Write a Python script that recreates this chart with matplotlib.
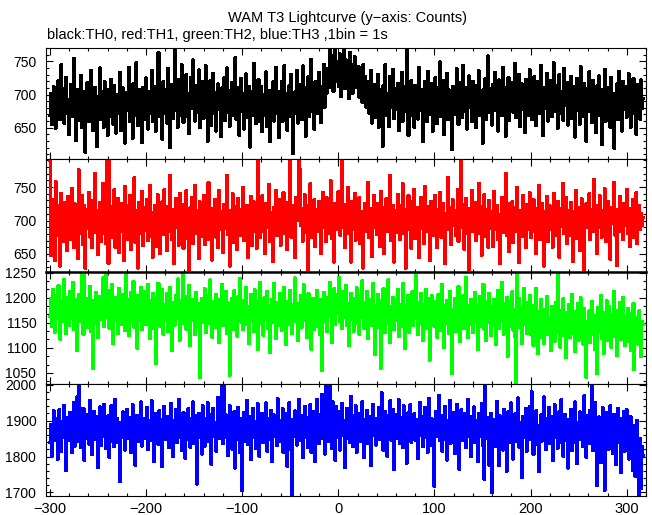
import numpy as np
import matplotlib

matplotlib.use("Agg")
import matplotlib.pyplot as plt
from matplotlib.ticker import MultipleLocator

# time bins (1 s) from -300 to 317
t_start = -300

th0 = [
    668, 702, 655, 691, 712, 684, 649, 703, 677, 721, 690, 662, 745, 681, 698, 657, 709, 726, 672, 688,
    640, 693, 715, 667, 682, 754, 699, 631, 676, 708, 661, 694, 729, 650, 687, 705, 672, 613, 690, 718,
    683, 659, 701, 736, 670, 646, 692, 711, 678, 622, 697, 684, 740, 663, 705, 688, 651, 719, 674, 696,
    639, 708, 681, 667, 723, 693, 655, 714, 679, 642, 700, 688, 671, 733, 646, 692, 710, 664, 627, 685,
    703, 676, 741, 659, 690, 698, 634, 717, 682, 669, 748, 688, 653, 707, 675, 692, 628, 711, 687, 662,
    725, 681, 648, 704, 693, 671, 736, 659, 689, 712, 645, 698, 680, 763, 667, 702, 686, 633, 719, 694,
    672, 708, 657, 739, 683, 620, 697, 715, 664, 690, 766, 676, 704, 651, 722, 688, 669, 745, 693, 658,
    711, 684, 730, 667, 702, 641, 695, 726, 679, 752, 688, 660, 714, 696, 673, 737, 650, 707, 685, 719,
    664, 698, 743, 676, 629, 709, 687, 721, 654, 694, 732, 671, 703, 645, 689, 716, 678, 698, 637, 710,
    686, 725, 661, 697, 740, 673, 706, 652, 691, 718, 668, 700, 682, 756, 663, 694, 711, 639, 688, 724,
    674, 702, 648, 690, 731, 665, 697, 712, 621, 683, 705, 668, 747, 689, 656, 708, 679, 723, 660, 696,
    712, 644, 687, 700, 668, 734, 652, 691, 706, 629, 675, 698, 719, 660, 684, 741, 671, 697, 635, 705,
    683, 720, 659, 694, 743, 677, 701, 646, 689, 713, 667, 730, 690, 611, 681, 704, 672, 736, 657, 699,
    688, 715, 662, 743, 679, 696, 637, 710, 684, 727, 667, 701, 753, 674, 692, 648, 719, 686, 706, 671,
    733, 690, 658, 712, 697, 745, 681, 717, 702, 739, 726, 768, 711, 742, 758, 705, 731, 775, 720, 749,
    733, 712, 761, 697, 744, 728, 771, 709, 752, 720, 738, 694, 763, 716, 745, 702, 730, 757, 711, 726,
    721, 742, 696, 733, 710, 688, 745, 704, 727, 681, 695, 719, 672, 688, 736, 657, 703, 682, 715, 666,
    692, 730, 651, 708, 679, 697, 622, 714, 686, 745, 669, 701, 690, 652, 727, 681, 698, 738, 664, 709,
    677, 693, 717, 646, 703, 685, 733, 660, 696, 712, 674, 767, 689, 638, 706, 680, 721, 668, 699, 651,
    714, 687, 703, 663, 741, 692, 676, 708, 629, 695, 720, 682, 659, 735, 701, 670, 688, 716, 645, 704,
    678, 726, 691, 656, 710, 683, 749, 667, 700, 721, 640, 694, 686, 732, 662, 707, 679, 698, 617, 712,
    688, 705, 670, 739, 691, 655, 718, 684, 702, 666, 744, 697, 675, 710, 648, 692, 728, 681, 703, 659,
    720, 687, 695, 650, 713, 678, 736, 669, 701, 689, 626, 707, 682, 724, 663, 696, 758, 673, 709, 688,
    654, 715, 691, 733, 676, 702, 645, 722, 684, 699, 668, 741, 690, 711, 637, 697, 680, 726, 661, 704,
    689, 718, 673, 694, 747, 665, 708, 683, 730, 652, 699, 716, 678, 691, 643, 723, 687, 705, 669, 737,
    694, 662, 712, 681, 727, 698, 653, 719, 686, 704, 671, 744, 690, 638, 710, 679, 698, 732, 660, 707,
    684, 721, 667, 701, 748, 675, 696, 713, 649, 688, 730, 672, 705, 693, 661, 739, 683, 700, 718, 654,
    706, 680, 727, 664, 697, 712, 636, 690, 724, 676, 703, 655, 742, 685, 698, 667, 716, 691, 630, 709,
    675, 734, 688, 702, 658, 721, 681, 697, 643, 713, 686, 728, 668, 699, 625, 707, 682, 738, 660, 694,
    711, 673, 690, 650, 726, 685, 702, 619, 697, 679, 716, 662, 735, 688, 704, 645, 720, 677, 693, 712,
    666, 701, 731, 684, 651, 709, 690, 724, 672, 697, 640, 715, 686, 703, 663, 722, 679, 694,
]

th1 = [
    790, 648, 712, 731, 695, 640, 758, 703, 677, 722, 685, 632, 741, 699, 714, 668, 727, 690, 655, 736,
    702, 719, 671, 748, 693, 660, 725, 684, 710, 643, 776, 697, 681, 738, 664, 706, 722, 628, 699, 717,
    688, 742, 675, 711, 659, 730, 697, 770, 682, 715, 649, 703, 727, 668, 694, 756, 680, 709, 665, 792,
    712, 636, 790, 697, 721, 674, 705, 746, 660, 718, 689, 733, 652, 701, 726, 683, 697, 640, 751, 708,
    671, 722, 693, 738, 656, 710, 684, 702, 764, 667, 715, 691, 629, 727, 700, 681, 744, 662, 706, 719,
    685, 732, 670, 699, 753, 676, 712, 645, 708, 723, 688, 661, 739, 696, 714, 650, 703, 728, 679, 746,
    692, 707, 655, 721, 684, 767, 698, 672, 716, 636, 703, 733, 689, 710, 663, 741, 695, 680, 724, 658,
    711, 698, 745, 673, 702, 626, 719, 687, 735, 666, 704, 752, 681, 715, 694, 643, 728, 700, 676, 709,
    738, 664, 696, 721, 683, 757, 671, 705, 690, 641, 718, 699, 732, 675, 708, 660, 745, 686, 713, 697,
    652, 724, 688, 701, 768, 679, 715, 632, 706, 693, 740, 667, 699, 721, 684, 656, 733, 702, 678, 716,
    691, 749, 670, 708, 687, 723, 645, 712, 696, 736, 662, 704, 728, 683, 699, 658, 790, 701, 721, 674,
    710, 737, 684, 697, 650, 726, 705, 689, 754, 668, 712, 693, 639, 720, 702, 745, 677, 706, 688, 731,
    663, 715, 698, 742, 681, 704, 727, 656, 692, 711, 790, 675, 708, 723, 687, 644, 735, 700, 716, 791,
    776, 693, 718, 669, 706, 739, 682, 700, 625, 722, 697, 755, 674, 710, 688, 731, 661, 703, 717, 684,
    729, 696, 651, 713, 742, 690, 707, 668, 734, 701, 681, 719, 760, 673, 705, 694, 638, 726, 711, 687,
    743, 702, 678, 716, 792, 689, 724, 660, 708, 697, 750, 681, 713, 638, 729, 699, 686, 741, 670, 704,
    720, 688, 734, 665, 702, 714, 629, 697, 726, 683, 709, 757, 675, 691, 718, 646, 703, 737, 690, 712,
    679, 725, 698, 661, 744, 706, 687, 719, 650, 701, 733, 684, 712, 692, 768, 670, 707, 723, 638, 696,
    715, 682, 739, 703, 671, 722, 694, 755, 680, 709, 628, 716, 699, 737, 686, 705, 658, 728, 691, 747,
    673, 710, 696, 720, 645, 702, 735, 688, 714, 666, 751, 699, 683, 721, 707, 640, 729, 694, 712, 678,
    704, 738, 690, 659, 716, 697, 742, 675, 708, 726, 683, 636, 711, 699, 764, 687, 720, 664, 703, 731,
    692, 715, 678, 706, 747, 669, 711, 689, 790, 701, 724, 657, 696, 733, 680, 710, 627, 718, 699, 745,
    684, 703, 727, 670, 712, 695, 756, 681, 708, 648, 721, 693, 739, 676, 705, 717, 660, 730, 698, 688,
    713, 661, 744, 700, 686, 723, 672, 709, 636, 697, 735, 682, 716, 694, 771, 677, 704, 726, 653, 711,
    690, 728, 667, 705, 719, 684, 749, 698, 637, 715, 701, 676, 738, 693, 710, 659, 724, 687, 706, 742,
    674, 712, 696, 731, 683, 702, 650, 718, 689, 753, 671, 707, 725, 694, 632, 714, 700, 736, 668, 709,
    722, 687, 706, 660, 741, 695, 713, 677, 729, 703, 645, 718, 691, 709, 756, 680, 698, 734, 666, 715,
    701, 678, 727, 692, 639, 714, 688, 745, 673, 706, 720, 655, 697, 733, 684, 711, 626, 703, 725, 690,
    709, 740, 671, 698, 716, 683, 762, 694, 707, 651, 723, 689, 737, 700, 675, 715, 693, 748, 668, 704,
    729, 686, 712, 642, 701, 720, 695, 757, 678, 709, 633, 717, 698, 736, 683, 704, 671, 726, 692, 710,
    747, 680, 703, 661, 718, 697, 732, 674, 708, 689, 742, 665, 701, 723, 686, 711, 693, 705,
]

th2 = [
    1163, 1198, 1142, 1217, 1176, 1131, 1189, 1205, 1158, 1224, 1170, 1117, 1193, 1152, 1181, 1236, 1166, 1128, 1201, 1174,
    1145, 1212, 1187, 1159, 1230, 1137, 1178, 1196, 1094, 1168, 1207, 1153, 1184, 1248, 1162, 1126, 1250, 1171, 1199, 1140,
    1188, 1160, 1223, 1133, 1175, 1058, 1194, 1149, 1210, 1167, 1121, 1185, 1203, 1156, 1179, 1239, 1142, 1196, 1250, 1161,
    1173, 1215, 1138, 1190, 1164, 1227, 1108, 1182, 1155, 1201, 1176, 1129, 1219, 1168, 1193, 1146, 1207, 1171, 1135, 1250,
    1160, 1197, 1124, 1183, 1211, 1150, 1174, 1232, 1141, 1187, 1165, 1099, 1205, 1178, 1152, 1220, 1136, 1190, 1169, 1213,
    1147, 1181, 1226, 1163, 1119, 1195, 1172, 1208, 1139, 1184, 1068, 1199, 1157, 1229, 1175, 1143, 1192, 1216, 1127, 1170,
    1186, 1154, 1209, 1133, 1176, 1221, 1161, 1095, 1190, 1173, 1145, 1204, 1167, 1237, 1158, 1115, 1195, 1178, 1250, 1149,
    1172, 1203, 1137, 1188, 1160, 1225, 1104, 1181, 1154, 1196, 1170, 1126, 1211, 1165, 1189, 1143, 1041, 1177, 1198, 1150,
    1183, 1218, 1130, 1166, 1204, 1148, 1179, 1235, 1157, 1121, 1192, 1171, 1140, 1207, 1162, 1185, 1110, 1196, 1174, 1227,
    1145, 1180, 1163, 1212, 1128, 1190, 1154, 1045, 1169, 1199, 1177, 1136, 1214, 1158, 1186, 1123, 1202, 1166, 1238, 1151,
    1175, 1137, 1195, 1163, 1221, 1146, 1182, 1109, 1170, 1206, 1155, 1189, 1132, 1216, 1161, 1178, 1097, 1193, 1148, 1231,
    1166, 1187, 1125, 1200, 1157, 1176, 1213, 1139, 1184, 1090, 1168, 1197, 1150, 1229, 1162, 1118, 1191, 1173, 1144, 1209,
    1170, 1134, 1198, 1158, 1221, 1181, 1106, 1167, 1193, 1147, 1215, 1160, 1128, 1186, 1174, 1239, 1152, 1189, 1115, 1178,
    1163, 1204, 1141, 1176, 1226, 1155, 1192, 1120, 1171, 1208, 1149, 1183, 1097, 1165, 1199, 1136, 1187, 1158, 1215, 1143,
    1180, 1127, 1196, 1055, 1168, 1210, 1153, 1185, 1132, 1201, 1164, 1231, 1175, 1110, 1190, 1158, 1218, 1146, 1184, 1207,
    1169, 1240, 1152, 1194, 1138, 1213, 1177, 1160, 1225, 1144, 1188, 1105, 1172, 1209, 1156, 1191, 1133, 1199, 1165, 1220,
    1148, 1181, 1126, 1203, 1161, 1234, 1174, 1139, 1190, 1157, 1212, 1119, 1178, 1196, 1145, 1170, 1228, 1154, 1087, 1185,
    1163, 1207, 1141, 1179, 1059, 1195, 1152, 1219, 1168, 1130, 1189, 1173, 1236, 1147, 1110, 1183, 1160, 1201, 1137, 1176,
    1196, 1154, 1216, 1123, 1170, 1187, 1142, 1229, 1161, 1098, 1184, 1150, 1205, 1167, 1131, 1193, 1174, 1212, 1144, 1179,
    1158, 1250, 1166, 1127, 1190, 1148, 1209, 1172, 1115, 1186, 1155, 1217, 1139, 1176, 1198, 1075, 1164, 1204, 1150, 1181,
    1143, 1192, 1169, 1121, 1206, 1157, 1178, 1134, 1227, 1162, 1100, 1185, 1149, 1195, 1170, 1128, 1213, 1155, 1048, 1176,
    1160, 1199, 1132, 1181, 1146, 1223, 1167, 1112, 1189, 1153, 1204, 1138, 1174, 1240, 1158, 1121, 1185, 1147, 1196, 1165,
    1130, 1177, 1210, 1151, 1186, 1096, 1168, 1203, 1142, 1180, 1159, 1227, 1136, 1171, 1114, 1193, 1150, 1208, 1163, 1124,
    1182, 1145, 1197, 1166, 1107, 1178, 1215, 1139, 1173, 1154, 1230, 1161, 1127, 1188, 1148, 1201, 1083, 1169, 1142, 1193,
    1155, 1212, 1135, 1176, 1122, 1031, 1250, 1158, 1198, 1140, 1181, 1109, 1164, 1219, 1147, 1172, 1128, 1190, 1153, 1205,
    1127, 1166, 1148, 1104, 1185, 1131, 1219, 1150, 1088, 1172, 1139, 1196, 1121, 1157, 1109, 1177, 1134, 1203, 1126, 1160,
    1143, 1095, 1182, 1137, 1168, 1113, 1191, 1149, 1250, 1130, 1164, 1101, 1175, 1140, 1198, 1124, 1155, 1080, 1170, 1135,
    1186, 1120, 1158, 1207, 1129, 1146, 1092, 1173, 1137, 1188, 1115, 1151, 1200, 1123, 1162, 1106, 1179, 1132, 1041, 1153,
    1139, 1174, 1110, 1156, 1192, 1126, 1164, 1097, 1145, 1049, 1181, 1132, 1160, 1205, 1119, 1148, 1089, 1171, 1134, 1194,
    1115, 1151, 1183, 1128, 1101, 1167, 1140, 1212, 1122, 1156, 1084, 1175, 1133, 1191, 1117, 1146, 1200, 1124, 1105, 1162,
    1136, 1179, 1113, 1150, 1095, 1168, 1127, 1189, 1056, 1141, 1118, 1160, 1107, 1174, 1131, 1082, 1153, 1146,
]

th3 = [
    1838, 1889, 1801, 1872, 1927, 1846, 1905, 1858, 1793, 1880, 1931, 1864, 1815, 1898, 1853, 1942, 1870, 1761, 1887, 1909,
    1845, 1923, 1868, 1812, 1895, 1950, 1829, 1877, 1966, 1841, 1996, 1884, 1826, 1909, 1867, 1935, 1790, 1873, 1918, 1851,
    1899, 1834, 1957, 1862, 1806, 1888, 1926, 1847, 1874, 1910, 1769, 1869, 1938, 1831, 1893, 1856, 1945, 1880, 1822, 1903,
    1860, 1914, 1797, 1876, 1941, 1843, 1890, 1827, 1960, 1866, 1905, 1839, 1881, 1730, 1896, 1852, 1924, 1870, 1818, 1886,
    1932, 1849, 1879, 1908, 1810, 1868, 1945, 1857, 1893, 1776, 1874, 1915, 1842, 1899, 1863, 1952, 1829, 1884, 1906, 1851,
    1877, 1936, 1820, 1869, 1901, 1845, 1955, 1872, 1786, 1890, 1919, 1856, 1883, 1833, 1928, 1862, 1903, 1771, 1879, 1940,
    1847, 1895, 1866, 1912, 1824, 1881, 1947, 1859, 1799, 1900, 1871, 1930, 1838, 1887, 1960, 1853, 1910, 1816, 1876, 1922,
    1865, 1794, 1897, 1848, 1933, 1880, 1826, 1905, 1861, 1952, 1836, 1889, 1914, 1723, 1869, 1921, 1852, 1893, 1807, 1941,
    1874, 1829, 1906, 1863, 1950, 1841, 1885, 1918, 1779, 1870, 1935, 1855, 1896, 1815, 1881, 1965, 1849, 1911, 1868, 1998,
    1837, 2000, 1876, 1916, 1852, 1803, 1891, 1942, 1860, 1821, 1903, 1869, 1926, 1768, 1885, 1847, 1937, 1874, 1811, 1905,
    1705, 1868, 1922, 1843, 1889, 1956, 1834, 1879, 1910, 1791, 1866, 1935, 1854, 1898, 1822, 1883, 1947, 1862, 1800, 1912,
    1872, 1921, 1838, 1894, 1863, 1949, 1815, 1880, 1906, 1847, 1929, 1785, 1869, 1916, 1855, 1893, 1830, 1961, 1874, 1842,
    1899, 1858, 1934, 1810, 1878, 1920, 1847, 1773, 1888, 1950, 1861, 1819, 1690, 1904, 1856, 1927, 1867, 1832, 1896, 1959,
    1844, 1883, 1913, 1797, 1870, 1940, 1853, 1892, 1826, 1908, 1865, 1944, 1811, 1881, 1925, 1849, 1786, 1897, 1959, 1872,
    1835, 1916, 1874, 1972, 1850, 1894, 1807, 1998, 1861, 1930, 1842, 2000, 1879, 1823, 1952, 1866, 1910, 1789, 1938, 1876,
    1854, 1924, 1818, 1889, 1947, 1860, 1899, 1770, 1876, 1933, 1851, 1906, 1838, 1968, 1872, 1827, 1914, 1865, 1941, 1811,
    1893, 1858, 1920, 1843, 1881, 1952, 1866, 1796, 1903, 1871, 1929, 1836, 1886, 1911, 1774, 1877, 1945, 1859, 1898, 1832,
    1907, 1862, 1936, 1848, 1885, 1979, 1857, 1818, 1892, 1925, 1867, 1801, 1913, 1874, 1955, 1846, 1883, 1930, 1763, 1869,
    1917, 1851, 1888, 1958, 1836, 1875, 1908, 1824, 1941, 1863, 1896, 1780, 1879, 1922, 1855, 1944, 1840, 1890, 1871, 1919,
    1846, 1903, 1865, 1794, 1884, 1950, 1859, 1910, 1827, 1873, 1937, 1852, 1897, 1812, 1962, 1868, 1831, 1905, 1877, 1843,
    1716, 1888, 1926, 1855, 1894, 1971, 1844, 1879, 1815, 1915, 1866, 1939, 1848, 1790, 1901, 1870, 1957, 1837, 1886, 1923,
    1861, 1808, 1898, 1946, 1853, 1882, 1765, 1873, 1930, 1845, 1907, 1868, 1921, 1825, 1893, 1960, 1857, 1884, 1800, 1912,
    1871, 1938, 1840, 1899, 1862, 1785, 1919, 1856, 1877, 1948, 1831, 1894, 1735, 1998, 1866, 1909, 1848, 1776, 1890, 1921,
    1700, 1857, 1902, 1827, 1880, 1953, 1845, 1774, 1913, 1864, 1895, 1818, 1932, 1851, 1887, 1759, 1870, 1926, 1839, 1904,
    1949, 1858, 1793, 1883, 1919, 1842, 1872, 1963, 1826, 1896, 1860, 1742, 1911, 1853, 1878, 1935, 1815, 1889, 1867, 1940,
    1848, 1981, 1869, 1806, 1902, 1855, 1928, 1833, 1885, 1757, 1874, 1916, 1843, 1892, 1966, 1859, 1820, 1906, 1871, 1937,
    1836, 1880, 1912, 1789, 1866, 1944, 1852, 1898, 1823, 1873, 1925, 1840, 1958, 1861, 1801, 1890, 1917, 1845, 1879, 1768,
    1904, 1857, 1931, 1816, 1886, 1863, 1952, 1838, 1781, 1895, 1869, 1924, 1847, 1909, 1829, 1885, 1969, 1853, 1798, 1914,
    1876, 1835, 1929, 1864, 1998, 1817, 1893, 1951, 1842, 1720, 1881, 1910, 1858, 1783, 1901, 1936, 1850, 1706, 1889, 1923,
    1862, 1819, 1897, 1941, 1846, 1875, 1808, 1918, 1866, 1777, 1890, 1933, 1839, 1871, 1755, 1906, 1852, 1926, 1815, 1882,
    1930, 1849, 1793, 1873, 1911, 1826, 1762, 1858, 1887, 1745, 1834, 1901, 1798, 1690, 1850, 1712, 1829, 1804,
]

series = [th0, th1, th2, th3]
colors = ["#000000", "#ff0000", "#00ff00", "#0000ff"]
ylims = [(603, 770), (623, 792), (1028, 1251), (1690, 2002)]
ymajor = [50, 50, 50, 100]
yminor = [10, 10, 50 / 3, 20]

plt.rcParams["font.family"] = ["Liberation Sans", "DejaVu Sans"]
plt.rcParams["font.size"] = 10

fig = plt.figure(figsize=(6.52, 5.15), dpi=100)

left, width = 46 / 652, 600 / 652
# panel pixel extents (top, bottom) in the 515 px tall figure
panel_px = [(48, 159), (159, 272), (272, 384), (384, 496)]

for i, (vals, col) in enumerate(zip(series, colors)):
    top, bot = panel_px[i]
    ax = fig.add_axes([left, (515 - bot) / 515, width, (bot - top) / 515])
    t = np.arange(t_start, t_start + len(vals))
    ax.step(t, vals, where="mid", color=col, lw=1.5, antialiased=False)
    ax.set_xlim(-304, 320)
    ax.set_ylim(*ylims[i])
    ax.xaxis.set_major_locator(MultipleLocator(100))
    ax.xaxis.set_minor_locator(MultipleLocator(20))
    ax.yaxis.set_major_locator(MultipleLocator(ymajor[i]))
    ax.yaxis.set_minor_locator(MultipleLocator(yminor[i]))
    ax.tick_params(which="both", direction="in", top=True, right=True, width=0.8, colors="black")
    ax.tick_params(which="major", length=5)
    ax.tick_params(which="minor", length=2.5)
    ax.tick_params(axis="y", pad=7, labelsize=10)
    ax.tick_params(axis="x", pad=4, labelsize=10.5)
    for s in ax.spines.values():
        s.set_linewidth(0.8)
    if i == 2:
        ax.spines["top"].set_linewidth(1.8)
    if i < 3:
        ax.tick_params(axis="x", labelbottom=False)
    # only label values inside the panel range
    ax.yaxis.set_major_formatter(
        plt.FuncFormatter(lambda v, p, lo=ylims[i][0], hi=ylims[i][1]: f"{v:.0f}" if lo <= v <= hi else "")
    )

fig.text(348 / 652, 1 - 18 / 515, "WAM T3 Lightcurve (y\u2212axis: Counts)", ha="center", va="center", fontsize=10.5)
fig.text(47 / 652, 1 - 35 / 515, "black:TH0, red:TH1, green:TH2, blue:TH3 ,1bin = 1s",
         ha="left", va="center", fontsize=10.5)

fig.savefig("out.png", dpi=100)
